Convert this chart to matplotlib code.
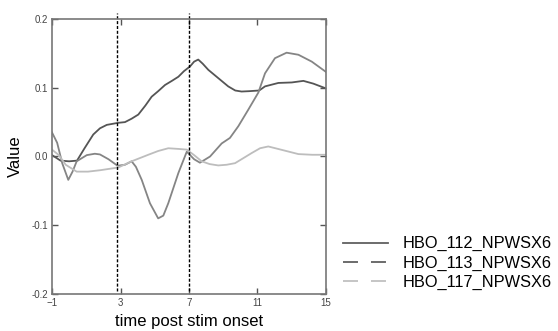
#!/usr/bin/env python3
# HBO time course plot, three channels, stim window marked by dashed lines

import numpy as np
import matplotlib
matplotlib.use('Agg')
import matplotlib.pyplot as plt
from matplotlib.lines import Line2D

plt.rcParams['font.family']=['Liberation Sans','DejaVu Sans']

# ---- data ----
x_112=[-1,-0.5,0.0,0.46,0.9,1.41,1.8,2.2,2.87,3.26,3.65,4.04,4.45,4.82,5.2,5.6,6.0,6.38,6.7,
       7.06,7.3,7.54,7.8,8.13,8.71,9.29,9.7,10.07,10.5,11.1,11.44,12.22,13.0,13.68,14.26,15]
y_112=[0.002,-0.006,-0.007,-0.006,0.012,0.032,0.041,0.046,0.049,0.050,0.055,0.061,0.074,0.087,
       0.095,0.104,0.110,0.116,0.124,0.131,0.138,0.141,0.135,0.126,0.114,0.102,0.096,0.0945,
       0.095,0.096,0.102,0.107,0.1077,0.110,0.106,0.099]

x_113=[-1,-0.7,-0.4,-0.05,0.2,0.44,1.03,1.5,1.8,2.3,2.83,3.26,3.65,3.9,4.24,4.72,5.2,5.5,5.79,
       6.38,6.87,7.3,7.64,8.23,8.91,9.39,9.88,10.46,11.05,11.44,12.02,12.7,13.39,14.17,15]
y_113=[0.035,0.020,-0.010,-0.034,-0.022,-0.007,0.002,0.004,0.003,-0.004,-0.0135,-0.012,-0.007,
       -0.015,-0.034,-0.068,-0.090,-0.086,-0.068,-0.024,0.007,-0.004,-0.009,0.0,0.019,0.027,
       0.044,0.068,0.093,0.121,0.143,0.151,0.148,0.138,0.123]

x_117=[-1,-0.6,-0.2,0.44,1.1,1.8,2.87,3.65,4.62,5.2,5.79,6.4,6.87,7.3,7.74,8.2,8.71,9.2,9.69,
       10.2,10.66,11.15,11.63,12.41,13.39,14.2,15]
y_117=[0.010,0.002,-0.012,-0.022,-0.022,-0.020,-0.016,-0.007,0.0025,0.008,0.012,0.011,0.010,
       0.002,-0.007,-0.011,-0.013,-0.012,-0.0097,-0.002,0.005,0.012,0.0146,0.0097,0.0035,
       0.0025,0.0025]

stim_marks=[2.8,7.0]
x_ticks=[-1,3,7,11,15]
y_ticks=[-0.2,-0.1,0.0,0.1,0.2]
y_tick_lbl=['-0.2','-0.1','0.0','0.1','0.2']
labels=['HBO_112_NPWSX6','HBO_113_NPWSX6','HBO_117_NPWSX6']


def main():
    fig=plt.figure(figsize=(5.58,3.31),dpi=100)
    ax=fig.add_axes([0.0932,0.1118,0.4910,0.8308])

    ax.plot(x_112,y_112,color='#555555',lw=1.3)
    ax.plot(x_113,y_113,color='#858585',lw=1.3)
    ax.plot(x_117,y_117,color='#bdbdbd',lw=1.3)

    for xm in stim_marks:
        ax.axvline(xm,ymin=0.01,ymax=1.02,color='black',lw=1.0,
                   linestyle=(0,(2.2,1.3)),clip_on=False)

    ax.set_xlim(-1,15)
    ax.set_ylim(-0.2,0.2)
    ax.set_xticks(x_ticks)
    ax.set_yticks(y_ticks)
    ax.set_yticklabels(y_tick_lbl)
    ax.tick_params(direction='in',length=4.3,width=1.0,color='#555555',
                   top=True,right=True,labelsize=7,labelcolor='#444444',pad=3)
    for sp in ax.spines.values():
        sp.set_color('#777777')
        sp.set_linewidth(1.2)

    ax.set_xlabel('time post stim onset',fontsize=12,labelpad=4)
    ax.set_ylabel('Value',fontsize=12,labelpad=6)

    # legend with proxy handles (the picture shows dashes for 113/117)
    hnd=[Line2D([],[],color='#606060',lw=1.3),
         Line2D([],[],color='#606060',lw=1.3,linestyle=(0,(8.3,7.2))),
         Line2D([],[],color='#c0c0c0',lw=1.3,linestyle=(0,(8.3,7.2)))]
    fig.legend(hnd,labels,loc='center left',bbox_to_anchor=(0.615,0.205),
               frameon=False,fontsize=11.8,handlelength=2.75,handletextpad=0.85,
               labelspacing=0.25,borderpad=0,borderaxespad=0)

    fig.savefig('out.png',dpi=100)
    plt.close('all')


if __name__=='__main__':
    main()
